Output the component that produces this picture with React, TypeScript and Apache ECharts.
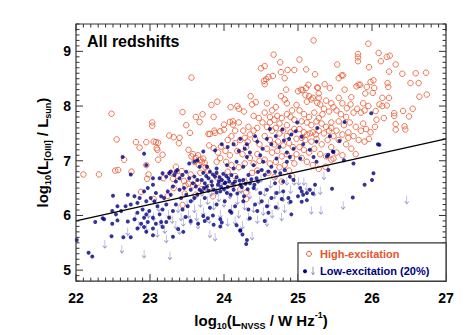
import React, { useEffect, useRef } from 'react';
import * as echarts from 'echarts';

const xMajorTicks = [22, 23, 24, 25, 26, 27];
const yMajorTicks = [5, 6, 7, 8, 9];
const xRange = [22, 27];
const yRange = [4.8, 9.5];
const minorStep = 0.1;

const highExcitation: number[][] = [
  [22.10,6.75],[22.31,6.75],[22.48,7.86],
  [22.55,7.39],[22.53,6.82],[22.57,6.83],[22.65,7.02],[22.75,6.80],[22.81,7.34],[22.86,7.24],[22.88,6.43],[22.95,7.34],[22.95,6.92],[22.96,6.67],[22.98,6.75],
  [23.03,7.70],[23.03,7.64],[23.05,7.35],[23.08,7.34],[23.11,7.33],[23.09,7.23],[23.10,7.20],[23.11,7.02],[23.05,6.30],[23.17,7.11],[23.26,7.46],[23.32,7.43],[23.40,7.42],[23.39,7.32],[23.44,7.89],[23.49,7.65],[23.18,6.68],[23.31,6.67],[23.24,6.36],[23.32,6.50],[23.43,6.81],[23.35,6.89],[23.44,6.19],[23.47,6.40],[23.48,6.55],[23.38,6.72],[23.46,6.63],[23.28,6.78],
  [23.56,8.52],[23.54,7.51],[23.52,7.20],[23.62,7.80],[23.67,7.71],[23.71,7.85],[23.56,7.08],[23.58,7.12],[23.79,7.49],[23.81,7.49],[23.86,7.80],[23.83,8.02],[23.91,8.08],[23.87,7.55],[23.88,7.51],[23.95,7.54],[23.62,7.05],[23.65,7.10],[23.68,7.02],[23.70,6.98],[23.60,6.98],[23.66,6.92],[23.72,7.04],[23.74,6.96],[23.80,7.28],[23.86,7.23],[23.92,7.15],[23.96,7.26],[23.90,6.98],[23.95,7.05],[23.75,6.88],[23.55,6.75],[23.58,6.55],[23.65,6.60],[23.70,6.48],[23.80,6.52],[23.85,6.35],[23.62,6.38],[23.52,6.58],[23.90,6.70],[23.78,6.82],[23.68,6.78],[23.97,6.62],
  [24.00,7.66],[24.00,7.57],[24.08,7.71],[24.12,7.72],[24.12,7.66],[24.09,7.98],[24.18,8.00],[24.20,7.95],[24.27,7.90],[24.20,7.70],[24.36,8.18],[24.38,8.03],[24.43,8.07],[24.05,7.38],[24.10,7.45],[24.15,7.32],[24.22,7.38],[24.28,7.42],[24.32,7.35],[24.35,7.48],[24.40,7.55],[24.45,7.60],[24.42,7.40],[24.48,7.30],[24.30,7.25],[24.25,7.12],[24.18,7.18],[24.08,7.10],[24.03,6.98],[24.10,6.92],[24.20,6.88],[24.28,6.95],[24.35,7.05],[24.40,6.95],[24.45,7.12],[24.38,6.78],[24.28,6.62],[24.15,6.72],[24.05,6.80],[24.12,6.55],[24.22,6.48],[24.30,6.42],[24.45,6.82],[24.48,7.00],[24.02,7.18],[24.33,7.62],[24.26,7.55],[24.15,7.55],[24.47,7.78],[24.40,7.82],[24.30,6.30],
  [24.50,8.69],[24.55,8.73],[24.54,8.46],[24.55,8.40],[24.57,8.49],[24.60,8.53],[24.67,8.94],[24.66,8.55],[24.76,8.80],[24.77,8.62],[24.82,8.51],[24.84,8.30],[24.86,8.66],[24.95,8.66],[24.77,8.18],[24.82,8.12],[24.85,8.05],[24.70,7.98],[24.65,7.92],[24.55,7.88],[24.58,8.05],[24.62,7.80],[24.68,7.75],[24.72,7.82],[24.78,7.78],[24.85,7.85],[24.90,7.80],[24.95,7.75],[24.52,7.70],[24.58,7.62],[24.65,7.55],[24.70,7.60],[24.75,7.50],[24.80,7.55],[24.85,7.45],[24.90,7.52],[24.95,7.58],[24.98,7.40],[24.55,7.45],[24.62,7.38],[24.68,7.30],[24.73,7.35],[24.80,7.28],[24.88,7.32],[24.93,7.25],[24.58,7.22],[24.65,7.15],[24.72,7.18],[24.78,7.08],[24.85,7.12],[24.92,7.05],[24.98,7.12],[24.55,7.02],[24.62,6.95],[24.70,6.98],[24.75,6.88],[24.82,6.92],[24.88,6.82],[24.95,6.95],[24.60,6.78],[24.68,6.70],[24.92,6.72],[24.78,6.62],[24.85,7.65],[24.62,7.70],[24.75,7.68],[24.92,7.92],[24.98,8.02],
  [25.02,8.85],[25.11,8.67],[25.21,9.20],[25.23,8.58],[25.27,8.33],[25.36,8.40],[25.43,8.33],[25.00,8.27],[25.04,8.30],[25.06,8.29],[25.14,8.39],[25.11,8.33],[25.26,8.34],[25.28,8.23],[25.10,8.20],[25.15,8.18],[25.20,8.15],[25.12,8.08],[25.18,8.12],[25.28,8.15],[25.26,8.06],[25.30,8.03],[25.38,8.10],[25.45,8.05],[25.35,7.95],[25.42,7.90],[25.48,7.98],[25.02,7.92],[25.08,7.85],[25.15,7.80],[25.22,7.88],[25.28,7.78],[25.05,7.72],[25.12,7.70],[25.18,7.65],[25.25,7.72],[25.32,7.68],[25.38,7.62],[25.45,7.70],[25.02,7.58],[25.08,7.52],[25.12,7.48],[25.16,7.50],[25.20,7.52],[25.24,7.48],[25.28,7.55],[25.35,7.50],[25.42,7.55],[25.48,7.45],[25.05,7.42],[25.10,7.38],[25.18,7.35],[25.25,7.40],[25.32,7.30],[25.40,7.38],[25.45,7.25],[25.02,7.25],[25.08,7.20],[25.15,7.15],[25.22,7.22],[25.30,7.12],[25.38,7.08],[25.45,7.02],[25.05,7.05],[25.12,6.98],[25.20,6.92],[25.28,6.85],[25.37,6.89],[25.48,7.04],[25.45,7.60],[25.33,7.85],
  [25.53,8.76],[25.55,8.51],[25.59,8.56],[25.61,8.56],[25.81,8.95],[25.81,8.89],[25.81,8.82],[25.95,9.14],[25.96,8.71],[25.98,8.44],[25.91,8.23],[25.93,8.35],[25.79,8.36],[25.82,8.39],[25.84,8.39],[25.63,8.30],[25.72,8.16],[25.71,8.03],[25.66,7.96],[25.55,8.15],[25.60,8.05],[25.52,7.92],[25.58,7.85],[25.65,7.80],[25.75,7.88],[25.80,7.95],[25.85,7.88],[25.90,7.92],[25.95,8.00],[25.88,8.05],[25.55,7.72],[25.62,7.65],[25.70,7.70],[25.78,7.62],[25.85,7.55],[25.92,7.58],[25.98,7.52],[25.52,7.55],[25.60,7.48],[25.68,7.52],[25.75,7.45],[25.82,7.38],[25.90,7.35],[25.96,7.40],[25.55,7.38],[25.65,7.30],[25.72,7.22],[25.78,7.12],[25.60,7.10],[25.52,7.15],[25.68,7.42],[25.88,7.68],
  [26.02,8.47],[26.03,8.33],[26.09,8.97],[26.12,8.82],[26.20,8.90],[26.24,8.92],[26.32,8.76],[26.23,8.63],[26.21,8.42],[26.22,8.35],[26.41,8.59],[26.59,8.60],[26.73,8.61],[26.63,8.42],[26.52,8.42],[26.64,8.17],[26.74,8.21],[26.23,8.15],[26.14,8.15],[26.10,8.03],[26.14,8.00],[26.20,8.01],[26.05,7.91],[26.42,7.91],[26.55,7.95],[26.50,7.81],[26.30,7.87],[26.30,7.82],[26.16,7.78],[26.06,7.75],[26.32,7.67],[26.32,7.57],[26.44,7.63],[26.45,7.57],[26.01,8.24],[26.04,7.62]
];

const lowExcitation: number[][] = [
  [22.63,7.07],[22.92,7.13],[22.95,6.92],[22.74,6.75],[22.50,6.36],[22.49,6.08],[22.26,5.88],[22.36,5.95],[22.38,5.93],[22.01,5.55],[22.17,5.32],[22.22,5.25],[22.48,5.62],[22.64,5.60],[22.74,5.60],[22.49,5.85],
  [22.54,6.02],[22.56,6.17],[22.70,6.38],[22.79,6.35],[22.86,6.32],[22.83,6.23],[22.74,6.20],[22.67,6.17],[22.61,6.08],[22.56,5.91],[22.70,5.89],[22.79,5.93],[22.83,6.05],[22.90,6.11],[22.95,6.02],[22.99,6.08],[23.04,5.96],[22.97,5.88],[22.92,5.79],[22.95,5.70],[23.04,5.64],[22.88,5.85],[23.08,5.85],[23.13,6.02],[23.17,6.11],[23.22,6.20],[23.10,6.17],[23.06,6.26],[23.01,6.32],[22.95,6.26],
  [22.92,6.44],[22.97,6.50],[23.04,6.56],[23.13,6.68],[23.08,6.41],[23.15,6.35],[23.19,6.32],[23.24,6.44],[23.28,6.38],[23.31,6.53],[23.35,6.62],[23.40,6.68],[23.33,6.74],[23.26,6.77],[23.22,6.71],[23.17,6.77],[23.35,6.80],[23.44,6.74],[23.49,6.80],[23.53,6.68],[23.58,6.59],[23.60,6.71],[23.64,6.65],[23.62,6.53],[23.55,6.47],[23.49,6.38],[23.42,6.32],[23.35,6.20],[23.31,6.08],[23.26,5.96],[23.22,5.88],[23.17,5.79],[23.31,5.61],[23.44,6.11],[23.51,6.17],[23.55,6.26],[23.60,6.32],[23.64,6.38],[23.67,6.47],[23.46,6.50],[23.40,6.47],[23.04,6.68],[22.92,5.96],[22.83,5.76],[23.04,5.76],[23.15,5.88],[23.53,6.95],[23.60,6.98],[23.64,7.01],[23.67,6.89],[23.28,6.80],[23.37,6.83],
  [23.70,6.65],[23.74,6.59],[23.79,6.68],[23.83,6.62],[23.88,6.71],[23.92,6.56],[23.97,6.65],[24.01,6.59],[24.06,6.68],[24.10,6.74],[24.15,6.62],[23.77,6.53],[23.86,6.47],[23.95,6.44],[24.04,6.41],[24.13,6.47],[24.22,6.56],[24.26,6.65],[24.33,6.74],[24.35,6.59],[24.40,6.50],[24.44,6.68],[24.46,6.80],[24.51,6.83],[24.55,6.74],[24.60,6.80],[24.64,6.89],[24.69,6.80],[24.76,6.77],[24.82,6.83],[24.89,6.71],[24.94,6.65],[25.03,6.50],[25.05,6.44],[25.07,6.38],[25.12,6.41],[25.16,6.47],[25.23,6.56],[24.91,6.02],[24.31,5.55],[24.22,5.73],[24.17,5.82],[23.95,5.93],[23.97,5.87],[23.86,5.83],[23.74,5.90],[23.72,5.99],[23.81,6.14],[23.90,6.20],[24.01,6.26],[24.08,6.08],[24.15,6.17],[24.26,6.26],[24.33,6.11],[24.42,6.20],[24.51,6.26],[24.58,6.17],[24.64,6.32],[24.71,6.41],[24.80,6.44],[24.87,6.32],[24.58,6.47],[24.49,6.41],[24.69,6.59],[24.80,6.62],[23.74,6.32],[23.70,6.44],[24.53,6.98],[24.71,7.04],[24.85,6.98],[24.89,7.07],[25.03,7.04],[24.49,7.10],[24.31,7.07],[24.17,6.98],[24.04,6.92],[23.90,6.86],[23.77,6.89],[24.13,6.86],[24.26,6.89],[24.40,6.92],
  [23.72,6.78],[23.76,6.72],[23.81,6.80],[23.85,6.75],[23.90,6.78],[23.94,6.70],[23.99,6.76],[24.03,6.72],[24.07,6.62],[24.12,6.58],[24.17,6.70],[24.21,6.64],[24.24,6.52],[24.29,6.58],[24.32,6.48],[24.37,6.66],[24.41,6.56],[24.46,6.62],[23.73,6.50],[23.79,6.45],[23.84,6.55],[23.90,6.42],[23.96,6.52],[24.00,6.48],[24.05,6.52],[24.09,6.38],[24.18,6.40],[24.27,6.35],[24.02,6.60],[23.93,6.62],
  [25.41,7.11],[25.39,7.08],[25.48,7.16],[25.62,7.01],[25.75,6.95],[25.41,6.83],[26.02,6.77],[26.00,6.65],[25.90,6.56],[25.46,6.49],[25.74,6.33],[25.21,7.07],[25.25,6.98],
  [25.99,7.87],[25.63,7.71],[25.43,7.45],[25.56,7.36],[26.08,7.30],[26.10,7.29],[25.47,7.17],
  [24.99,7.70],[24.62,7.58],[24.79,7.57],[24.97,7.54],[25.05,7.44],[25.26,7.60],[25.25,7.35],[24.91,7.48],[24.81,7.37],[24.64,7.30],[24.42,7.45],[24.22,7.40],[24.31,7.30],[23.97,7.30],[23.88,7.19],[23.72,7.17],[24.94,7.22],[25.07,7.30],[25.16,7.20],
  [24.13,7.30],[24.20,7.18],[24.28,7.22],[24.35,7.15],[24.05,7.25],[24.45,7.35],[24.52,7.22],[24.58,7.40],[24.70,7.45],[24.75,7.25],[24.85,7.15],[24.88,7.40],
  [24.22,5.72],[24.25,5.65],[24.30,5.48],[24.10,6.05],[24.35,5.95],[24.45,6.08],[24.60,6.05],[24.70,6.15],[24.78,6.30],[24.90,6.25],[25.00,6.35],[25.05,6.25],[25.12,6.28],[25.20,6.40],[24.55,5.90],[23.95,5.80],[23.85,6.00],[23.78,5.95],[23.65,5.85],[23.55,5.90],[23.48,5.97],[23.38,5.75],[23.45,5.70]
];

const lowExcLimits: number[][] = [
  [22.39,5.55],[22.62,5.46],[22.92,5.37],[23.27,5.34],[22.85,5.90],[22.95,5.85],[23.05,6.05],[23.15,5.95],[23.10,5.75],[23.20,5.82],[23.25,6.10],[23.30,6.00],[23.35,5.90],[23.38,6.20],[23.42,6.05],[23.45,5.95],[23.50,6.30],[23.52,6.10],[23.55,5.98],[23.58,6.40],[23.60,6.20],[23.63,6.05],[23.65,5.90],[23.68,6.30],[23.70,6.50],[23.72,6.15],[23.75,6.60],[23.78,6.35],[23.80,6.00],[23.81,5.74],[23.83,6.50],[23.86,6.25],[23.88,5.68],[23.90,6.60],[23.93,6.40],[23.95,6.10],[23.98,6.70],[24.00,6.30],[24.03,6.55],[24.05,5.95],[24.08,6.45],[24.10,6.20],[24.13,6.65],[24.15,5.98],[24.18,6.35],[24.20,6.10],[24.23,6.55],[24.25,5.90],[24.28,6.25],[24.30,6.70],[24.33,6.05],[24.35,6.45],[24.38,5.70],[24.40,6.20],[24.43,6.60],[24.45,6.00],[24.48,6.35],[24.50,6.75],[24.53,6.15],[24.55,6.50],[24.58,5.95],[24.60,6.30],[24.63,6.65],[24.65,6.10],[24.68,6.45],[24.70,6.80],[24.73,6.25],[24.75,6.55],[24.78,6.05],[24.80,6.40],[24.82,6.20],[24.85,6.70],[24.88,6.35],[24.90,6.55],[24.95,6.70],[25.01,6.70],[25.08,6.70],[25.18,6.17],[25.31,6.17],[25.30,6.53],[25.35,6.80],[25.61,6.26],[26.47,6.36],[25.22,6.50],[25.12,6.60],[23.22,5.65],[23.40,5.80],[23.12,6.22],[22.98,6.10],[22.80,6.05],[22.70,5.78]
];

const fitLine: number[][] = [[22, 5.9], [27, 7.4]];

const ORANGE = '#e8542a';
const NAVY = '#00007f';
const ARROW = '#7c7cc4';
const FRAME = '#333333';
const FONT = '"Liberation Sans", Arial, Helvetica, sans-serif';

const isInt = (v: number) => Math.abs(v - Math.round(v)) < 1e-6;
const intLabel = (v: number) => (isInt(v) ? String(Math.round(v)) : '');
const stepValues = (lo: number, hi: number) => {
  const out: number[] = [];
  const n = Math.round((hi - lo) / minorStep);
  for (let i = 0; i <= n; i++) out.push(Math.round((lo + i * minorStep) * 10) / 10);
  return out;
};

export default function App() {
  const ref = useRef<HTMLDivElement>(null);
  useEffect(() => {
    if (!ref.current) return;
    const chart = echarts.init(ref.current, undefined, { renderer: 'svg' });
    const labelStyle = { fontSize: 14, fontWeight: 'bold', color: '#000', fontFamily: FONT, formatter: intLabel };
    const nameStyle = {
      fontSize: 15, fontWeight: 'bold', color: '#000', fontFamily: FONT, lineHeight: 20,
      rich: {
        sub: { fontSize: 9, fontWeight: 'bold', fontFamily: FONT, color: '#000', verticalAlign: 'bottom' },
        sup: { fontSize: 9, fontWeight: 'bold', fontFamily: FONT, color: '#000', verticalAlign: 'top' },
      },
    };
    chart.setOption({
      animation: false,
      grid: { left: 76, right: 23, top: 24, bottom: 49 },
      xAxis: {
        type: 'value', min: xRange[0], max: xRange[1], interval: 1,
        axisLine: { show: false }, splitLine: { show: false }, axisTick: { show: false },
        axisLabel: { show: true, ...labelStyle, margin: 10 },
        name: 'log{sub|10}(L{sub|NVSS} / W Hz{sup|-1})', nameLocation: 'middle', nameGap: 19, nameTextStyle: nameStyle,
      },
      yAxis: {
        type: 'value', min: yRange[0], max: yRange[1], interval: minorStep,
        axisLine: { show: false }, splitLine: { show: false }, axisTick: { show: false },
        axisLabel: { show: true, ...labelStyle, margin: 5 },
        name: 'log{sub|10}(L{sub|[OIII]} / L{sub|sun})', nameLocation: 'middle', nameRotate: 90, nameGap: 6, nameTextStyle: nameStyle,
      },
      series: [
        {
          type: 'scatter', data: highExcitation, symbol: 'circle', symbolSize: 5.5,
          itemStyle: { color: 'rgba(255,255,255,0)', borderColor: ORANGE, borderWidth: 1 }, z: 2,
        },
        {
          type: 'scatter', data: lowExcLimits, symbol: 'path://M5,0 L5,20 M2,14 L5,20 L8,14',
          symbolSize: [4, 8], symbolOffset: [0, 4],
          itemStyle: { color: 'rgba(255,255,255,0)', borderColor: ARROW, borderWidth: 0.8 }, z: 3,
        },
        {
          type: 'scatter', data: lowExcitation, symbol: 'circle', symbolSize: 4,
          itemStyle: { color: NAVY }, z: 4,
        },
        {
          type: 'line', data: fitLine, symbol: 'none', lineStyle: { color: '#000', width: 1.3 }, z: 5,
        },
      ],
    });

    // Frame and ticks drawn as graphic elements, positioned through the chart's own scales.
    const px = (x: number, y: number) => chart.convertToPixel({ gridIndex: 0 }, [x, y]) as number[];
    const [x0, y0] = px(xRange[0], yRange[0]);
    const [x1, y1] = px(xRange[1], yRange[1]);
    const MAJ = 7;
    const MIN = 3.5;
    const tickStyle = { stroke: FRAME, lineWidth: 1 };
    const ticks: any[] = [];
    stepValues(xRange[0], xRange[1]).forEach((v) => {
      const len = isInt(v) ? MAJ : MIN;
      const x = px(v, yRange[0])[0];
      ticks.push({ type: 'line', z: 60, silent: true, shape: { x1: x, y1: y0, x2: x, y2: y0 - len }, style: tickStyle });
      ticks.push({ type: 'line', z: 60, silent: true, shape: { x1: x, y1: y1, x2: x, y2: y1 + len }, style: tickStyle });
    });
    stepValues(yRange[0], yRange[1]).forEach((v) => {
      const len = isInt(v) ? MAJ : MIN;
      const y = px(xRange[0], v)[1];
      ticks.push({ type: 'line', z: 60, silent: true, shape: { x1: x0, y1: y, x2: x0 + len, y2: y }, style: tickStyle });
      ticks.push({ type: 'line', z: 60, silent: true, shape: { x1: x1, y1: y, x2: x1 - len, y2: y }, style: tickStyle });
    });
    const [lx0, ly0] = px(25, 5.5);

    chart.setOption({
      graphic: [
        { type: 'text', x: 87, y: 41, z: 100, style: { text: 'All redshifts', fill: '#000', fontSize: 16, fontWeight: 'bold', fontFamily: FONT, verticalAlign: 'middle' } },
        { type: 'rect', z: 100, shape: { x: lx0, y: ly0, width: x1 - lx0, height: y0 - ly0 }, style: { fill: '#fff', stroke: FRAME, lineWidth: 1.2 } },
        { type: 'circle', z: 101, shape: { cx: lx0 + 11, cy: ly0 + 11, r: 2.5 }, style: { fill: 'none', stroke: ORANGE, lineWidth: 1 } },
        { type: 'text', z: 101, x: lx0 + 22, y: ly0 + 11, style: { text: 'High-excitation', fill: ORANGE, fontSize: 11, fontWeight: 'bold', fontFamily: FONT, verticalAlign: 'middle' } },
        { type: 'circle', z: 101, shape: { cx: lx0 + 7, cy: ly0 + 28.5, r: 2 }, style: { fill: NAVY } },
        { type: 'polyline', z: 101, shape: { points: [[lx0 + 15, ly0 + 24], [lx0 + 15, ly0 + 32]] }, style: { stroke: ARROW, lineWidth: 0.8, fill: 'none' } },
        { type: 'polyline', z: 101, shape: { points: [[lx0 + 13.6, ly0 + 29.6], [lx0 + 15, ly0 + 32], [lx0 + 16.4, ly0 + 29.6]] }, style: { stroke: ARROW, lineWidth: 0.8, fill: 'none' } },
        { type: 'text', z: 101, x: lx0 + 22, y: ly0 + 28.5, style: { text: 'Low-excitation (20%)', fill: NAVY, fontSize: 11, fontWeight: 'bold', fontFamily: FONT, verticalAlign: 'middle' } },
        { type: 'rect', z: 99, silent: true, shape: { x: x0, y: y1, width: x1 - x0, height: y0 - y1 }, style: { fill: 'none', stroke: FRAME, lineWidth: 1.2 } },
        ...ticks,
      ],
    });
    return () => chart.dispose();
  }, []);
  return <div ref={ref} style={{ position: 'absolute', left: 0, top: 0, width: 469, height: 335 }} />;
}
